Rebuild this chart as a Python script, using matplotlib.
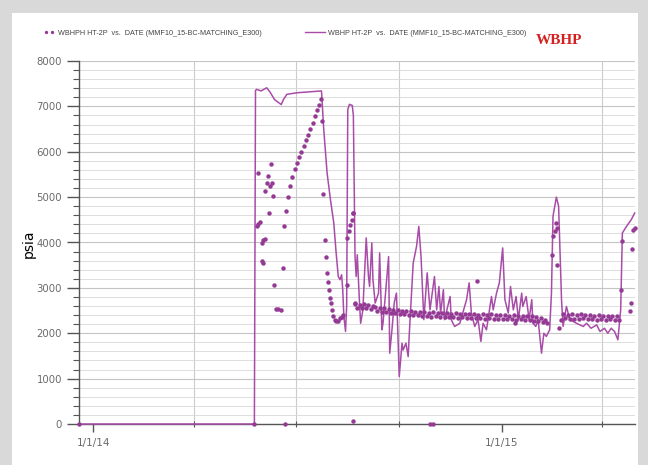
import numpy as np
import pandas as pd
import matplotlib
matplotlib.use("Agg")
import matplotlib.pyplot as plt
import matplotlib.dates as mdates
from matplotlib.lines import Line2D
from matplotlib.patches import Rectangle
from matplotlib.ticker import MultipleLocator, FuncFormatter

BASE = pd.Timestamp("2014-01-01")

# simulated WBHP (line): days since 1/1/14, psia
sim_days = [-13, 144, 145, 146, 150, 155, 158, 162, 168, 170, 173, 182, 204,
            206, 209, 212, 215, 217, 219, 220.5, 222, 223, 224, 225.5, 226.5,
            227.5, 229, 231.5, 232.5, 234, 235, 236, 238, 239, 241, 244, 246,
            247, 249, 250, 252, 255, 256, 258, 259, 261, 264, 265, 267, 269,
            271, 272, 273.5, 276, 277, 279.5, 281.5, 283, 286, 289, 291, 293,
            295.5, 298.5, 301, 305, 307, 309, 310.5, 313, 314, 319, 320, 323,
            327.7, 333.7, 336, 338, 341, 344, 346.5, 348.5, 351.5, 356, 357.5,
            360.5, 363, 366, 368, 371, 373, 375.5, 378, 380, 383, 384, 387,
            389.6, 392, 393, 395.6, 397.7, 400.7, 402.8, 405, 408, 409.6, 411,
            414, 416, 418.6, 420, 423, 426, 432, 438, 441, 445, 450, 453, 457,
            460, 463, 466, 469, 471.5, 473, 476.7, 481, 484]
sim_psia = [0, 0, 7350, 7375, 7340, 7410, 7315, 7150, 7040, 7150, 7265, 7300, 7340,
            6500, 5535, 4945, 4430, 3800, 3250, 3180, 3290, 2960, 2370, 2040, 2590,
            6930, 7045, 7020, 6800, 3690, 3250, 3730, 2665, 2220, 2515, 4100, 3250,
            3030, 3990, 3180, 2665, 2885, 3770, 2075, 2220, 2810, 3690, 1560, 2075, 2665,
            2885, 2220, 1045, 1780, 1630, 1780, 1485, 2220, 3550, 3915, 4355, 3690,
            2300, 3330, 2515, 3250, 2515, 3030, 2445, 2960, 2300, 2810, 2300, 2150,
            2220, 2740, 3110, 2445, 2150, 2300, 1820, 2220, 2075, 2810, 2515,
            2885, 3110, 3880, 2740, 2445, 3030, 2515, 2810, 2300, 2885, 2590, 2810,
            2300, 2740, 2220, 2150, 2300, 1560, 2000, 1930, 2075, 2885, 4580,
            5000, 4800, 2740, 2150, 2590, 2300, 2220, 2150, 2220, 2110, 2185, 2040, 2110,
            2000, 2110, 2040, 1855, 2515, 4210, 4355, 4505, 4650]

# historical WBHPH (dots): scattered points
hist_days = [-13, 144, 146, 147.5, 149, 147.5, 150.5, 152, 153.4, 150.5, 152,
             153.4, 155, 155.8, 158, 159.4, 158.8, 160.9, 157, 161.8, 163.3,
             165.3, 167.5, 169.8, 170.7, 171,
             172, 174, 176, 178, 180, 182, 184, 186, 188, 190, 192, 194, 196,
             198, 200, 202, 204,
             204.9, 205.5, 207, 207.6, 208.8, 210, 210.9, 211.8, 212.4, 213.3,
             214.5, 216, 216.9, 219, 220.5, 222, 223,
             227, 227, 228.5, 229.4, 230.9, 231.8, 232.4, 232.4, 234,
             301, 304, 342.6, 376.9,
             410, 411, 412.6, 414, 414.2, 415, 416.4, 418,
             471.8, 472.3, 479.7, 481, 482, 482.6, 484]
hist_psia = [0, 0, 4370, 5535, 4445, 4400, 3990, 4060, 4080, 3585, 3550,
             5130, 5315, 5475, 5255, 5315, 5740, 5020, 4650, 3070, 2540,
             2530, 2515, 3440, 4355, 0,
             4700, 5000, 5250, 5450, 5620, 5760, 5880, 6000, 6120, 6250, 6380, 6510, 6640,
             6780, 6910, 7040, 7160,
             6675, 5060, 4060, 3690, 3330, 3140, 2960, 2775, 2665, 2515,
             2370, 2300, 2260, 2260, 2330, 2350, 2400,
             3070, 4100, 4245, 4395, 4505, 4640, 4650, 70, 2665,
             0, 0, 3160, 2220,
             3730, 4135, 4245, 4430, 4320, 3510, 2110, 2300,
             2960, 4025, 2480, 2665, 3860, 4280, 4320]

# dense band of daily history values
band1_days = np.arange(234, 407, 2)
band1_psia = [2650, 2560, 2630, 2550, 2640, 2560, 2620, 2530, 2600,
              2570, 2480, 2560, 2470, 2550, 2460, 2530, 2450, 2520, 2440,
              2510, 2430, 2500, 2420, 2490, 2410, 2480, 2410, 2470, 2400,
              2470, 2380, 2460, 2370, 2450, 2360, 2460, 2370, 2440, 2360,
              2450, 2350, 2440, 2360, 2430, 2350, 2440, 2340, 2430, 2350,
              2420, 2340,
              2420, 2330, 2430, 2340, 2410, 2330, 2420, 2320, 2410, 2330,
              2420, 2320, 2400, 2320, 2410, 2310, 2400, 2320, 2390, 2310,
              2400, 2300, 2390, 2310, 2380, 2300, 2380, 2290, 2370, 2280,
              2350, 2270, 2330,
              2240, 2300, 2230]
band2_days = np.arange(420, 471, 2)
band2_psia = [2420, 2330, 2410, 2320, 2420, 2310, 2400, 2320, 2430, 2330,
              2400, 2310, 2410, 2320, 2390, 2300, 2400, 2310, 2390, 2300,
              2380, 2310, 2390, 2300, 2380, 2300]

line_color = "#a84ca8"
dot_color = "#943a94"


def to_dates(days):
    return BASE + pd.to_timedelta(np.asarray(days, dtype=float), unit="D")


fig = plt.figure(figsize=(6.48, 4.65), dpi=100, facecolor="#d9d9d9")
fig.add_artist(Rectangle((12 / 648, 0), 626 / 648, 452 / 465, transform=fig.transFigure,
                         facecolor="white", edgecolor="none", zorder=0))

ax = fig.add_axes([79 / 648, 1 - 424 / 465, 556 / 648, 363 / 465])
ax.set_facecolor("white")

ax.plot(to_dates(sim_days), sim_psia, color=line_color, lw=1.1, clip_on=False, zorder=3)
all_hist_d = list(hist_days) + list(band1_days) + list(band2_days)
all_hist_v = list(hist_psia) + list(band1_psia) + list(band2_psia)
ax.plot(to_dates(all_hist_d), all_hist_v, ls="none", marker="o", ms=3.2, mew=0,
        color=dot_color, clip_on=False, zorder=4)

ax.set_ylim(0, 8000)
ax.set_xlim(to_dates([-12.8])[0], to_dates([484.3])[0])

ax.yaxis.set_major_locator(MultipleLocator(1000))
ax.yaxis.set_minor_locator(MultipleLocator(200))
ax.xaxis.set_major_locator(mdates.MonthLocator(bymonth=[1]))
ax.xaxis.set_minor_locator(mdates.MonthLocator(bymonth=[1, 4, 7, 10]))
ax.xaxis.set_major_formatter(FuncFormatter(
    lambda v, p: "{}/{}/{}".format(mdates.num2date(v).month, mdates.num2date(v).day,
                                   mdates.num2date(v).strftime("%y"))))

for s in ["top", "right"]:
    ax.spines[s].set_visible(False)
for s in ["left", "bottom"]:
    ax.spines[s].set_color("#555555")
    ax.spines[s].set_linewidth(1.0)

# tick lengths are in points (1 px = 0.72 pt here)
ax.tick_params(axis="y", which="major", length=8.6, width=1, color="#555555",
               labelsize=7.3, labelcolor="#6a6a6a", pad=3.6)
ax.tick_params(axis="y", which="minor", length=4.3, width=0.8, color="#555555")
ax.tick_params(axis="x", which="major", length=5.8, width=1, color="#555555",
               labelsize=7.5, labelcolor="#6a6a6a", pad=4)
ax.tick_params(axis="x", which="minor", length=5, width=0.8, color="#555555",
               direction="inout")

ax.grid(which="major", axis="y", color="#c4c4c4", lw=0.8)
ax.grid(which="minor", axis="y", color="#d8d8d8", lw=0.6)
ax.grid(which="minor", axis="x", color="#cccccc", lw=0.8)
ax.set_axisbelow(True)

fig.text(29 / 648, 1 - 244 / 465, "psia", rotation=90, fontsize=10,
         ha="center", va="center", color="black")

leg_font = {"family": "Liberation Sans", "size": 5.2}
fig.legend([Line2D([], [], ls="none", marker="o", ms=2.4, mew=0, color=dot_color)],
           ["WBHPH HT-2P  vs.  DATE (MMF10_15-BC-MATCHING_E300)"],
           loc="center left", bbox_to_anchor=(44 / 648, 1 - 33 / 465),
           frameon=False, prop=leg_font, labelcolor="#444444", numpoints=2,
           handlelength=1.4, handletextpad=0.5, borderpad=0, borderaxespad=0)
fig.legend([Line2D([], [], color=line_color, lw=1.0)],
           ["WBHP HT-2P  vs.  DATE (MMF10_15-BC-MATCHING_E300)"],
           loc="center left", bbox_to_anchor=(305 / 648, 1 - 33 / 465),
           frameon=False, prop=leg_font, labelcolor="#444444",
           handlelength=2.8, handletextpad=0.4, borderpad=0, borderaxespad=0)

fig.text(536 / 648, 1 - 41 / 465, "WBHP", color="#d42020", fontsize=11,
         fontweight="bold", family="Liberation Serif", va="center", ha="left")

fig.savefig("out.png", dpi=100, facecolor=fig.get_facecolor())
